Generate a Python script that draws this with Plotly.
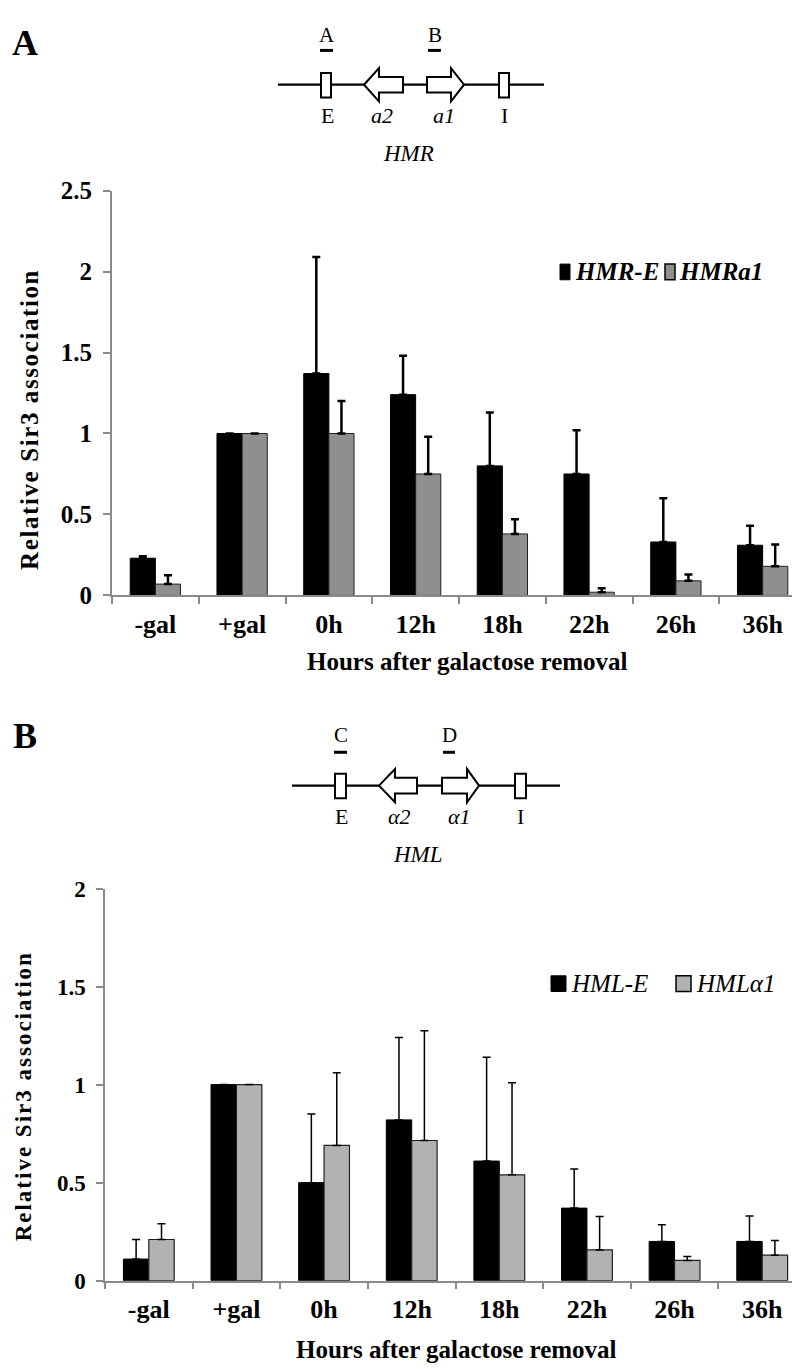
import plotly.graph_objects as go

# ---------------- data ----------------
categories = ["-gal", "+gal", "0h", "12h", "18h", "22h", "26h", "36h"]

hmr_e = [0.23, 1.00, 1.37, 1.24, 0.80, 0.75, 0.33, 0.31]
hmr_e_err = [0.012, None, 0.72, 0.24, 0.33, 0.27, 0.27, 0.12]
hmr_a1 = [0.07, 1.00, 1.00, 0.75, 0.38, 0.02, 0.09, 0.18]
hmr_a1_err = [0.055, None, 0.20, 0.23, 0.09, 0.025, 0.04, 0.135]

hml_e = [0.11, 1.00, 0.50, 0.82, 0.61, 0.37, 0.20, 0.20]
hml_e_err = [0.10, None, 0.35, 0.42, 0.53, 0.20, 0.085, 0.13]
hml_a1 = [0.21, 1.00, 0.69, 0.715, 0.54, 0.157, 0.103, 0.13]
hml_a1_err = [0.08, None, 0.37, 0.56, 0.47, 0.17, 0.02, 0.075]

yticks_a = [0, 0.5, 1, 1.5, 2, 2.5]
yticks_b = [0, 0.5, 1, 1.5, 2]

W, H = 800, 1369
SERIF = "Liberation Serif"


def X(px):
    return px / W


def Y(py):
    return 1 - py / H


def minus(err):
    return [None if e is None else 0 for e in err]


fig = go.Figure()

# ---- panel A bars ----
fig.add_trace(go.Bar(
    x=categories, y=hmr_e, name="HMR-E", xaxis="x", yaxis="y",
    marker=dict(color="#000000", line=dict(color="#000000", width=1)),
    error_y=dict(type="data", symmetric=False, array=hmr_e_err,
                 arrayminus=minus(hmr_e_err), color="#000000", thickness=2.5, width=4),
    showlegend=False))
fig.add_trace(go.Bar(
    x=categories, y=hmr_a1, name="HMRa1", xaxis="x", yaxis="y",
    marker=dict(color="#8f8f8f", line=dict(color="#202020", width=1)),
    error_y=dict(type="data", symmetric=False, array=hmr_a1_err,
                 arrayminus=minus(hmr_a1_err), color="#000000", thickness=2.5, width=4),
    showlegend=False))

# ---- panel B bars ----
fig.add_trace(go.Bar(
    x=categories, y=hml_e, name="HML-E", xaxis="x2", yaxis="y2",
    marker=dict(color="#000000", line=dict(color="#000000", width=1)),
    error_y=dict(type="data", symmetric=False, array=hml_e_err,
                 arrayminus=minus(hml_e_err), color="#000000", thickness=1.5, width=4),
    showlegend=False))
fig.add_trace(go.Bar(
    x=categories, y=hml_a1, name="HMLα1", xaxis="x2", yaxis="y2",
    marker=dict(color="#b2b2b2", line=dict(color="#202020", width=1.2)),
    error_y=dict(type="data", symmetric=False, array=hml_a1_err,
                 arrayminus=minus(hml_a1_err), color="#000000", thickness=1.5, width=4),
    showlegend=False))

axis_gray = "#8a8a8a"

fig.update_layout(
    width=W, height=H,
    margin=dict(l=0, r=0, t=0, b=0),
    paper_bgcolor="white", plot_bgcolor="white",
    barmode="group", bargap=0.42, bargroupgap=0,
    font=dict(family=SERIF, color="black"),
    xaxis=dict(domain=[X(104), X(798)], anchor="y", type="category",
               showline=True, linecolor=axis_gray, linewidth=2,
               ticks="outside", tickson="boundaries", ticklen=7, tickcolor=axis_gray, tickwidth=2,
               tickfont=dict(family=SERIF, size=26, weight="bold"),
               ticklabelstandoff=4, showgrid=False, zeroline=False, fixedrange=True),
    yaxis=dict(domain=[Y(586), Y(173)], anchor="x", range=[0, 2.5],
               tickvals=yticks_a, ticktext=[f"{v:g}" for v in yticks_a],
               showline=True, linecolor=axis_gray, linewidth=2,
               ticks="outside", ticklen=7, tickcolor=axis_gray, tickwidth=2,
               tickfont=dict(family=SERIF, size=25, weight="bold"),
               ticklabelstandoff=6, showgrid=False, zeroline=False),
    xaxis2=dict(domain=[X(97), X(798)], anchor="y2", type="category",
                showline=True, linecolor=axis_gray, linewidth=1.5,
                ticks="outside", tickson="boundaries", ticklen=7, tickcolor=axis_gray, tickwidth=1.5,
                tickfont=dict(family=SERIF, size=26, weight="bold"),
                ticklabelstandoff=4, showgrid=False, zeroline=False),
    yaxis2=dict(domain=[Y(1285), Y(885)], anchor="x2", range=[0, 2],
                tickvals=yticks_b, ticktext=[f"{v:g}" for v in yticks_b],
                showline=True, linecolor=axis_gray, linewidth=1.5,
                ticks="outside", ticklen=7, tickcolor=axis_gray, tickwidth=1.5,
                tickfont=dict(family=SERIF, size=23, weight="bold"),
                ticklabelstandoff=6, showgrid=False, zeroline=False),
)

shapes = []
annos = []


def text(px, py, s, size=20, bold=False, italic=False, angle=0):
    annos.append(dict(x=X(px), y=Y(py), xref="paper", yref="paper", text=s,
                      showarrow=False, xanchor="center", yanchor="middle", textangle=angle,
                      font=dict(family=SERIF, size=size, color="black",
                                weight="bold" if bold else "normal",
                                style="italic" if italic else "normal")))


def line(x0, y0, x1, y1, w=2.2):
    shapes.append(dict(type="line", xref="paper", yref="paper",
                       x0=X(x0), y0=Y(y0), x1=X(x1), y1=Y(y1),
                       line=dict(color="black", width=w)))


def rect(x0, y0, x1, y1, fill="white", lw=2):
    shapes.append(dict(type="rect", xref="paper", yref="paper",
                       x0=X(x0), y0=Y(y0), x1=X(x1), y1=Y(y1),
                       fillcolor=fill, line=dict(color="black", width=lw)))


def poly(pts, lw=2):
    d = "M " + " L ".join(f"{X(a):.5f},{Y(b):.5f}" for a, b in pts) + " Z"
    shapes.append(dict(type="path", xref="paper", yref="paper", path=d,
                       fillcolor="white", line=dict(color="black", width=lw)))


def locus(cy, x0, x1, ebox, ibox, a2, a1, top_labels, bottom_labels):
    line(x0, cy, x1, cy)
    rect(ebox[0], cy - 12, ebox[1], cy + 13)
    rect(ibox[0], cy - 12, ibox[1], cy + 13)
    tip, back, end = a2
    poly([(tip, cy), (back, cy - 17), (back, cy - 8), (end, cy - 8),
          (end, cy + 8), (back, cy + 8), (back, cy + 17)])
    start, back2, tip2 = a1
    poly([(start, cy - 8), (back2, cy - 8), (back2, cy - 17), (tip2, cy),
          (back2, cy + 17), (back2, cy + 8), (start, cy + 8)])
    for (lx, ly, s, ux0, ux1, uy) in top_labels:
        text(lx, ly, s, size=21)
        line(ux0, uy, ux1, uy, w=3)
    for (lx, ly, s, it) in bottom_labels:
        text(lx, ly, s, size=22, italic=it)


# panel A diagram
text(17, 22, "A", size=36, bold=True)
locus(65, 270, 536, (313, 323), (491, 501), (356, 371, 395), (419, 443, 456),
      [(319, 14, "A", 312, 325, 30), (427, 14, "B", 420, 433, 30)],
      [(319, 96, "E", False), (374, 96, "a2", True), (436, 96, "a1", True), (496, 96, "I", False)])
text(400, 135, "HMR", size=23, italic=True)

# panel B diagram
text(17, 729, "B", size=36, bold=True)
locus(780, 284, 552, (327, 338), (507, 518), (371, 387, 409), (434, 459, 471),
      [(333, 728, "C", 326, 339, 746), (441, 728, "D", 435, 447, 746)],
      [(333, 811, "E", False), (391, 811, "α2", True), (452, 811, "α1", True), (512, 811, "I", False)])
text(410, 850, "HML", size=23, italic=True)

# axis titles (letter-spaced, as in the reference)
text(22, 407, '<span style="letter-spacing:1.6px">Relative Sir3 association</span>',
     size=25, bold=True, angle=-90)
text(460, 653, "Hours after galactose removal", size=25, bold=True)
text(15, 1097, '<span style="letter-spacing:2px">Relative Sir3 association</span>',
     size=23, bold=True, angle=-90)
text(448, 1355, "Hours after galactose removal", size=25, bold=True)

# legends (swatch + label)
rect(552, 248, 562, 264, fill="#000000", lw=1)
annos.append(dict(x=X(565), y=Y(256), xref="paper", yref="paper", text="HMR-E", showarrow=False,
                  xanchor="left", yanchor="middle",
                  font=dict(family=SERIF, size=25, weight="bold", style="italic")))
rect(657, 248, 667, 264, fill="#8f8f8f", lw=1.5)
annos.append(dict(x=X(669), y=Y(256), xref="paper", yref="paper", text="HMRa1", showarrow=False,
                  xanchor="left", yanchor="middle",
                  font=dict(family=SERIF, size=25, weight="bold", style="italic")))

rect(543, 974, 558, 990, fill="#000000", lw=1)
annos.append(dict(x=X(561), y=Y(982), xref="paper", yref="paper", text="HML-E", showarrow=False,
                  xanchor="left", yanchor="middle",
                  font=dict(family=SERIF, size=25, style="italic")))
rect(668, 974, 683, 990, fill="#b2b2b2", lw=1.5)
annos.append(dict(x=X(686), y=Y(982), xref="paper", yref="paper", text="HMLα1", showarrow=False,
                  xanchor="left", yanchor="middle",
                  font=dict(family=SERIF, size=25, style="italic")))

fig.update_layout(shapes=shapes, annotations=annos)
fig.write_html("out.html")
